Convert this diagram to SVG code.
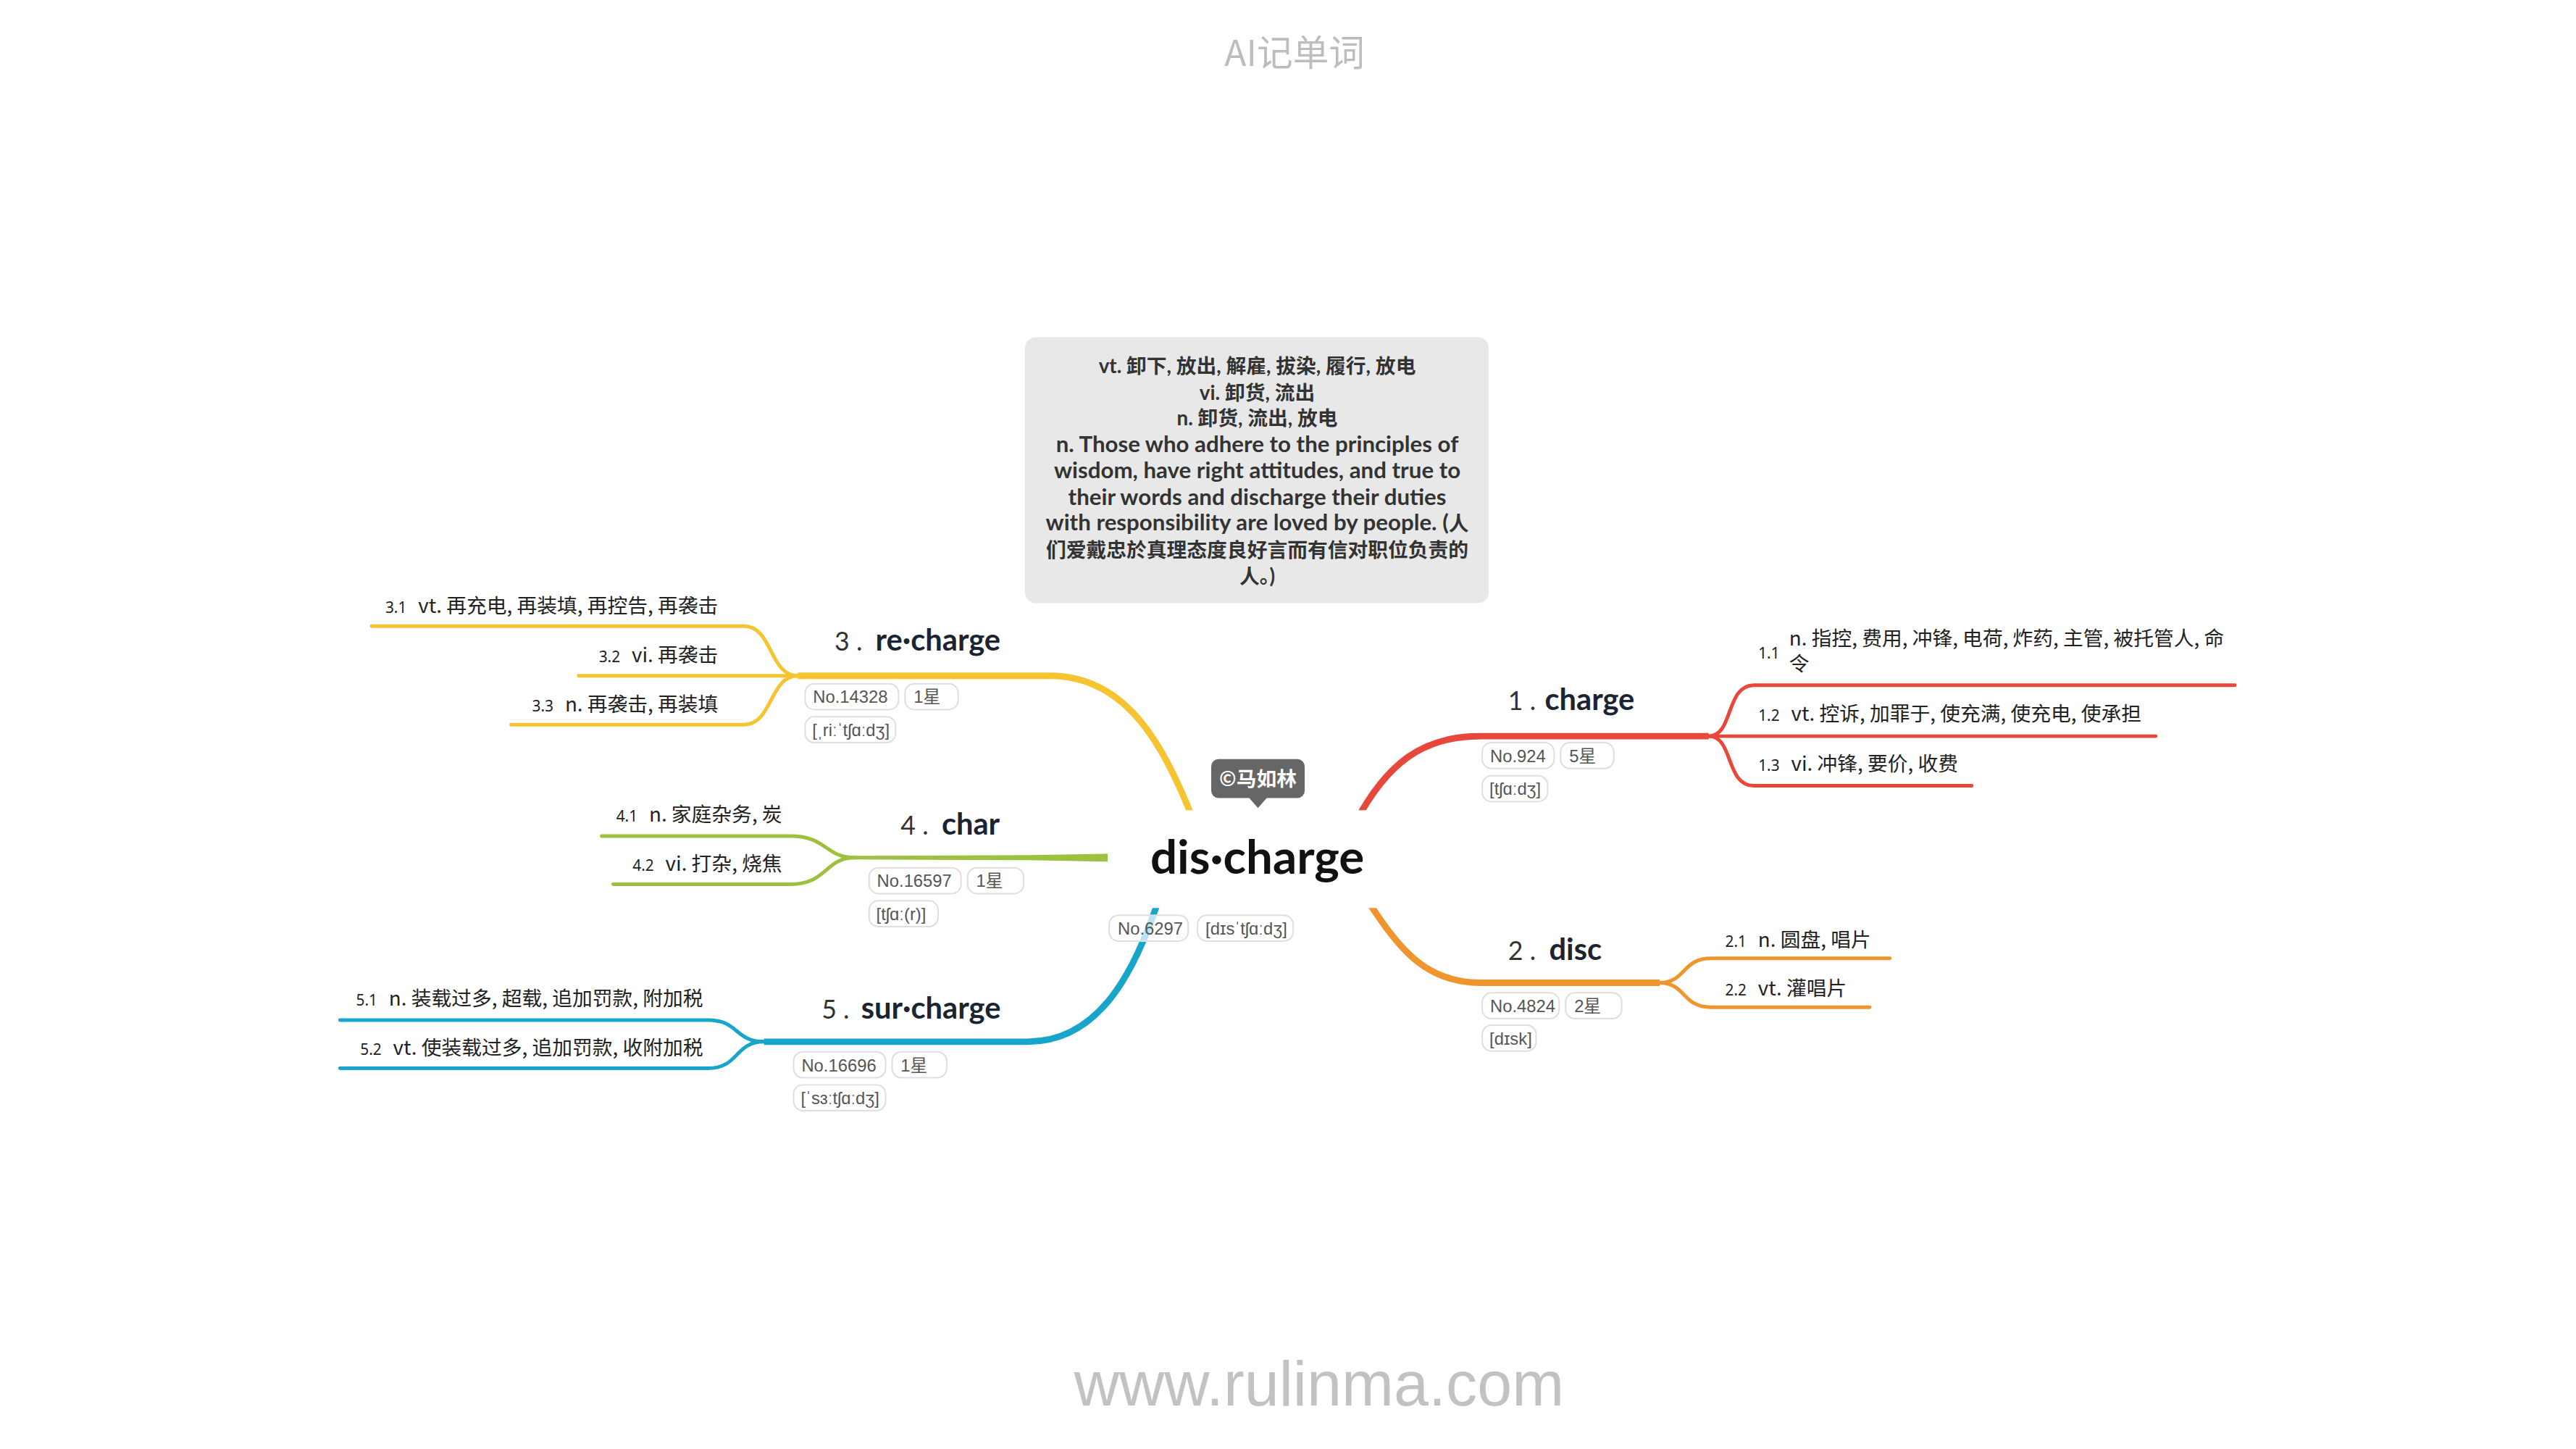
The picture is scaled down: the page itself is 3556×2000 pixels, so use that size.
<svg xmlns="http://www.w3.org/2000/svg" width="3556" height="2000" viewBox="0 0 3556 2000">
<style>
.main{fill:none;stroke-width:9;stroke-linecap:butt}
.sub{fill:none;stroke-width:5;stroke-linecap:round}
.y{stroke:#F6C431}.r{stroke:#E8483C}.g{stroke:#9DC13F}.b{stroke:#17A6CA}.o{stroke:#F0952E}
.def{font-family:"Lato","Noto Sans CJK SC",sans-serif;font-weight:bold;font-size:28px;fill:#333;text-anchor:middle}
.lat{font-size:31.5px}
.idx{font-family:"Lato","Noto Sans",sans-serif;font-size:36px;fill:#333}
.ttl{font-family:"Lato","Noto Sans",sans-serif;font-weight:bold;font-size:42px;fill:#1b2433}
.ch{font-family:"Noto Sans CJK SC","Noto Sans",sans-serif;font-size:28px;fill:#222}
.num{font-family:"Noto Sans","Noto Sans CJK SC",sans-serif;font-size:21px;fill:#222}
.tag rect{fill:#fff;fill-opacity:0.7;stroke:#dedede;stroke-width:2}
.tag text{font-family:"Liberation Sans","DejaVu Sans","Noto Sans CJK SC",sans-serif;font-size:24px;fill:#555}
</style>
<rect width="3556" height="2000" fill="#fff"/>
<g transform="scale(0.9923)">
<text x="1801" y="92" font-family="Noto Sans CJK SC, sans-serif" font-size="50" fill="#bdbdbd" text-anchor="middle">AI记单词</text>
<text x="1835" y="1955" font-family="Liberation Sans, sans-serif" font-size="87" fill="#c2c2c2" text-anchor="middle">www.rulinma.com</text>

<g id="connectors">
<path class="main y" d="M1662,1145 C1620,1040 1570,940 1460,940 L1110,940"/>
<path class="sub y" d="M1110,940 C1070,940 1075,871 1035,871 L517,871"/>
<path class="sub y" d="M1110,940 L805,940"/>
<path class="sub y" d="M1110,940 C1070,940 1075,1008 1035,1008 L711,1008"/>
<path fill="#9DC13F" d="M1189,1190.5 L1430,1189.5 L1541,1187.5 L1541,1198.5 L1430,1196.5 L1189,1195.5 Z"/>
<path class="sub g" d="M1189,1193 C1148,1193 1150,1163 1100,1163 L837,1163"/>
<path class="sub g" d="M1189,1193 C1148,1193 1150,1230 1100,1230 L853,1230"/>
<path class="main b" d="M1614,1245 C1580,1350 1530,1449 1430,1449 L1063,1449"/>
<path class="sub b" d="M1063,1449 C1022,1449 1028,1419 985,1419 L473,1419"/>
<path class="sub b" d="M1063,1449 C1022,1449 1028,1486 985,1486 L473,1486"/>
<path class="main r" d="M1885,1145 C1930,1060 1980,1024 2060,1024 L2377,1024"/>
<path class="sub r" d="M2377,1024 C2412,1024 2400,953 2440,953 L3109,953"/>
<path class="sub r" d="M2377,1024 L2999,1024"/>
<path class="sub r" d="M2377,1024 C2412,1024 2400,1093 2440,1093 L2743,1093"/>
<path class="main o" d="M1898,1245 C1950,1330 1990,1367 2060,1367 L2309,1367"/>
<path class="sub o" d="M2309,1367 C2345,1367 2340,1333 2380,1333 L2629,1333"/>
<path class="sub o" d="M2309,1367 C2345,1367 2340,1401 2380,1401 L2601,1401"/>
</g>

<g id="definition">
<rect x="1426" y="469" width="645" height="370" rx="15" fill="#e8e8e8"/>
<text class="def" x="1749" y="519">vt. 卸下, 放出, 解雇, 拔染, 履行, 放电</text>
<text class="def" x="1749" y="556">vi. 卸货, 流出</text>
<text class="def" x="1749" y="592">n. 卸货, 流出, 放电</text>
<text class="def lat" x="1749" y="629">n. Those who adhere to the principles of</text>
<text class="def lat" x="1749" y="665">wisdom, have right attitudes, and true to</text>
<text class="def lat" x="1749" y="702">their words and discharge their duties</text>
<text class="def" x="1749" y="738"><tspan class="lat">with responsibility are loved by people. (</tspan>人</text>
<text class="def" x="1749" y="775">们爱戴忠於真理态度良好言而有信对职位负责的</text>
<text class="def" x="1749" y="811">人。)</text>
</g>

<g id="center">
<rect x="1541" y="1127" width="416" height="136" fill="#fff"/>
<text x="1749" y="1215" font-family="Lato, Noto Sans, sans-serif" font-weight="bold" font-size="66" fill="#111" text-anchor="middle">dis·charge</text>
<g class="tag"><rect x="1543" y="1273" width="110" height="36" rx="13"/><text x="1555" y="1300">No.6297</text></g>
<g class="tag"><rect x="1666" y="1273" width="133" height="36" rx="13"/><text x="1677" y="1300">[dɪsˈtʃɑːdʒ]</text></g>
</g>

<g id="author">
<rect x="1685" y="1056" width="130" height="54" rx="10" fill="#666"/>
<path d="M1737,1109 L1763,1109 L1750,1124 Z" fill="#666"/>
<text x="1750" y="1093" font-family="Noto Sans CJK SC, sans-serif" font-weight="bold" font-size="28" fill="#fff" text-anchor="middle">©马如林</text>
</g>

<g id="node3">
<text class="idx" x="1161" y="905">3 .</text>
<text class="ttl" x="1218" y="905">re·charge</text>
<g class="tag"><rect x="1120" y="951" width="130" height="36" rx="13"/><text x="1131" y="978">No.14328</text></g>
<g class="tag"><rect x="1259" y="951" width="74" height="36" rx="13"/><text x="1271" y="978">1星</text></g>
<g class="tag"><rect x="1120" y="997" width="126" height="36" rx="13"/><text x="1130" y="1024">[ˌriːˈtʃɑːdʒ]</text></g>
</g>
<g id="node3-1"><text class="ch" x="999" y="853" text-anchor="end"><tspan class="num">3.1</tspan><tspan dx="16">vt. 再充电, 再装填, 再控告, 再袭击</tspan></text></g>
<g id="node3-2"><text class="ch" x="999" y="921" text-anchor="end"><tspan class="num">3.2</tspan><tspan dx="16">vi. 再袭击</tspan></text></g>
<g id="node3-3"><text class="ch" x="999" y="990" text-anchor="end"><tspan class="num">3.3</tspan><tspan dx="16">n. 再袭击, 再装填</tspan></text></g>

<g id="node4">
<text class="idx" x="1253" y="1161">4 .</text>
<text class="ttl" x="1310" y="1161">char</text>
<g class="tag"><rect x="1209" y="1207" width="128" height="36" rx="13"/><text x="1220" y="1234">No.16597</text></g>
<g class="tag"><rect x="1346" y="1207" width="78" height="36" rx="13"/><text x="1358" y="1234">1星</text></g>
<g class="tag"><rect x="1209" y="1253" width="96" height="36" rx="13"/><text x="1219" y="1280">[tʃɑː(r)]</text></g>
</g>
<g id="node4-1"><text class="ch" x="1088" y="1143" text-anchor="end"><tspan class="num">4.1</tspan><tspan dx="16">n. 家庭杂务, 炭</tspan></text></g>
<g id="node4-2"><text class="ch" x="1088" y="1211" text-anchor="end"><tspan class="num">4.2</tspan><tspan dx="16">vi. 打杂, 烧焦</tspan></text></g>

<g id="node5">
<text class="idx" x="1143" y="1417">5 .</text>
<text class="ttl" x="1198" y="1417">sur·charge</text>
<g class="tag"><rect x="1104" y="1463" width="128" height="36" rx="13"/><text x="1115" y="1490">No.16696</text></g>
<g class="tag"><rect x="1241" y="1463" width="76" height="36" rx="13"/><text x="1253" y="1490">1星</text></g>
<g class="tag"><rect x="1104" y="1509" width="128" height="36" rx="13"/><text x="1114" y="1536">[ˈsɜːtʃɑːdʒ]</text></g>
</g>
<g id="node5-1"><text class="ch" x="978" y="1399" text-anchor="end"><tspan class="num">5.1</tspan><tspan dx="16">n. 装载过多, 超载, 追加罚款, 附加税</tspan></text></g>
<g id="node5-2"><text class="ch" x="978" y="1467" text-anchor="end"><tspan class="num">5.2</tspan><tspan dx="16">vt. 使装载过多, 追加罚款, 收附加税</tspan></text></g>

<g id="node1">
<text class="idx" x="2098" y="988">1 .</text>
<text class="ttl" x="2149" y="988">charge</text>
<g class="tag"><rect x="2062" y="1033" width="100" height="36" rx="13"/><text x="2073" y="1060">No.924</text></g>
<g class="tag"><rect x="2171" y="1033" width="74" height="36" rx="13"/><text x="2183" y="1060">5星</text></g>
<g class="tag"><rect x="2062" y="1079" width="91" height="36" rx="13"/><text x="2072" y="1106">[tʃɑːdʒ]</text></g>
</g>
<g id="node1-1">
<text class="num" x="2446" y="916">1.1</text>
<text class="ch" x="2489" y="898">n. 指控, 费用, 冲锋, 电荷, 炸药, 主管, 被托管人, 命</text>
<text class="ch" x="2489" y="933">令</text>
</g>
<g id="node1-2"><text class="ch" x="2446" y="1003"><tspan class="num">1.2</tspan><tspan dx="16">vt. 控诉, 加罪于, 使充满, 使充电, 使承担</tspan></text></g>
<g id="node1-3"><text class="ch" x="2446" y="1072"><tspan class="num">1.3</tspan><tspan dx="16">vi. 冲锋, 要价, 收费</tspan></text></g>

<g id="node2">
<text class="idx" x="2098" y="1335">2 .</text>
<text class="ttl" x="2155" y="1335">disc</text>
<g class="tag"><rect x="2062" y="1381" width="107" height="36" rx="13"/><text x="2073" y="1408">No.4824</text></g>
<g class="tag"><rect x="2178" y="1381" width="78" height="36" rx="13"/><text x="2190" y="1408">2星</text></g>
<g class="tag"><rect x="2062" y="1426" width="75" height="36" rx="13"/><text x="2072" y="1453">[dɪsk]</text></g>
</g>
<g id="node2-1"><text class="ch" x="2400" y="1317"><tspan class="num">2.1</tspan><tspan dx="16">n. 圆盘, 唱片</tspan></text></g>
<g id="node2-2"><text class="ch" x="2400" y="1385"><tspan class="num">2.2</tspan><tspan dx="16">vt. 灌唱片</tspan></text></g>
</g>
</svg>
